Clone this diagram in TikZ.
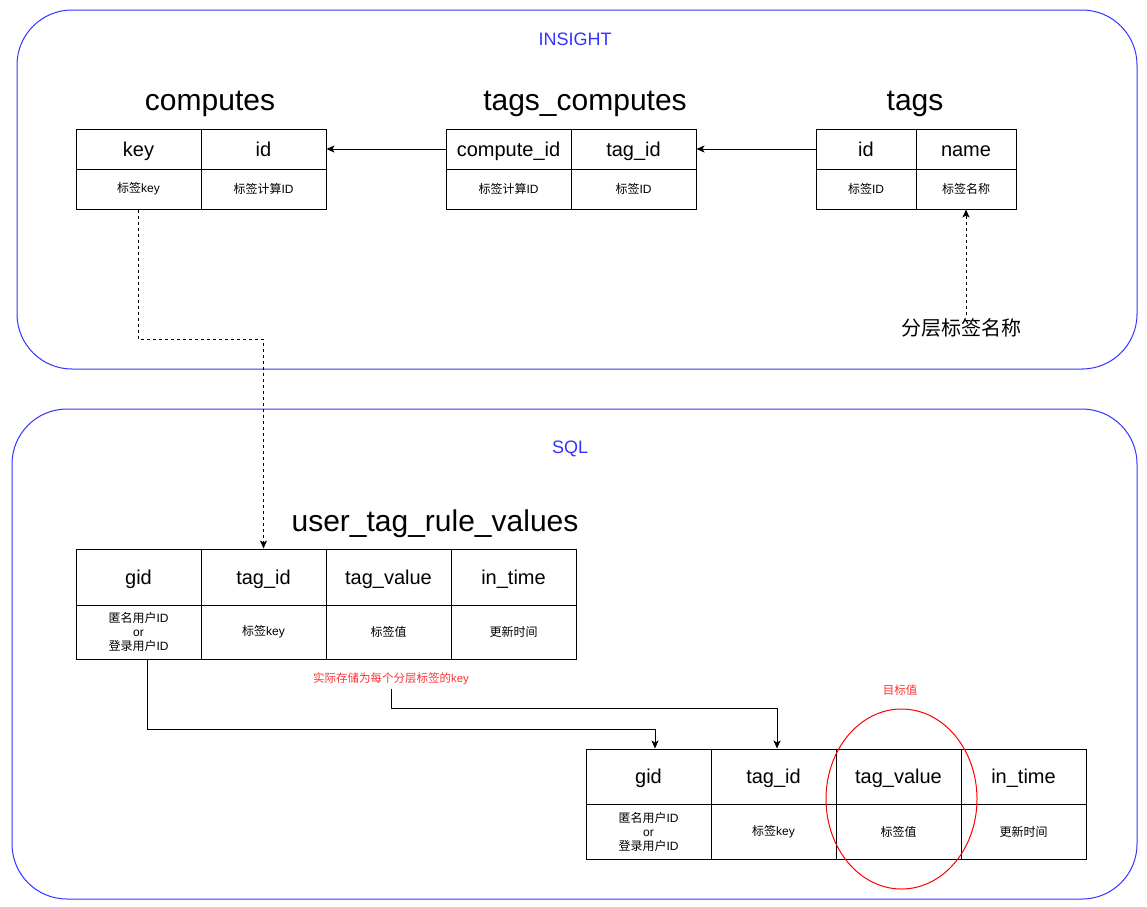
\documentclass[tikz,border=0pt]{standalone}
\usepackage{fontspec}
\setmainfont{Liberation Sans}
\newfontfamily\cjk{Noto Sans CJK SC}
\usetikzlibrary{arrows.meta,shapes.geometric}
\newcommand\zh[1]{{\cjk #1}}
\definecolor{boxblue}{HTML}{3333FF}
\definecolor{txtred}{HTML}{FF3333}
\begin{document}
\begin{tikzpicture}[x=1pt,y=-1pt,
  container/.style={draw=boxblue, line width=1pt, rounded corners=55pt},
  boxlabel/.style={text=boxblue, font=\fontsize{18}{22}\selectfont},
  cell/.style={draw=black, line width=1pt, inner sep=0pt, align=center},
  hd/.style={cell, font=\fontsize{20}{24}\selectfont, text height=16pt, text depth=2pt},
  bd/.style={cell, font=\fontsize{12}{14}\selectfont},
  ttl/.style={font=\fontsize{30}{34}\selectfont},
  redlbl/.style={text=txtred, font=\fontsize{11.5}{14}\selectfont},
  arr/.style={line width=1pt, -{Stealth[length=8pt,width=7pt,inset=2pt]}},
  darr/.style={arr, dashed, dash pattern=on 3pt off 3pt}
]
\fill[white] (0,0) rectangle (1147,906);
\useasboundingbox (0,0) rectangle (1147,906);

% containers
\draw[container] (17,10) rectangle (1137,369);
\node[boxlabel] (insight) at (575,39) {INSIGHT};
\draw[container] (12,409) rectangle (1137,899);
\node[boxlabel] (sql) at (570,449) {SQL};

% computes
\node[ttl] (tcomp) at (210,104) {computes};
\node[hd, minimum width=125, minimum height=40] (c1) at (138.5,149) {key};
\node[hd, minimum width=125, minimum height=40] (c2) at (263.5,149) {id};
\node[bd, minimum width=125, minimum height=40] (c3) at (138.5,189) {\zh{标签}key};
\node[bd, minimum width=125, minimum height=40] (c4) at (263.5,189) {\zh{标签计算}ID};

% tags_computes
\node[ttl] (ttc) at (585,104) {tags\_computes};
\node[hd, minimum width=125, minimum height=40] (m1) at (508.5,149) {compute\_id};
\node[hd, minimum width=125, minimum height=40] (m2) at (633.5,149) {tag\_id};
\node[bd, minimum width=125, minimum height=40] (m3) at (508.5,189) {\zh{标签计算}ID};
\node[bd, minimum width=125, minimum height=40] (m4) at (633.5,189) {\zh{标签}ID};

% tags
\node[ttl] (ttags) at (915,104) {tags};
\node[hd, minimum width=100, minimum height=40] (t1) at (866,149) {id};
\node[hd, minimum width=100, minimum height=40] (t2) at (966,149) {name};
\node[bd, minimum width=100, minimum height=40] (t3) at (866,189) {\zh{标签}ID};
\node[bd, minimum width=100, minimum height=40] (t4) at (966,189) {\zh{标签名称}};

\node[font=\fontsize{20}{24}\selectfont] (layer) at (961,328) {\zh{分层标签名称}};

% user_tag_rule_values
\node[ttl] (tutr) at (435,524) {user\_tag\_rule\_values};
\node[hd, minimum width=125, minimum height=56] (u1) at (138.5,577) {gid};
\node[hd, minimum width=125, minimum height=56] (u2) at (263.5,577) {tag\_id};
\node[hd, minimum width=125, minimum height=56] (u3) at (388.5,577) {tag\_value};
\node[hd, minimum width=125, minimum height=56] (u4) at (513.5,577) {in\_time};
\node[bd, minimum width=125, minimum height=54] (u5) at (138.5,632) {\zh{匿名用户}ID\\or\\\zh{登录用户}ID};
\node[bd, minimum width=125, minimum height=54] (u6) at (263.5,632) {\zh{标签}key};
\node[bd, minimum width=125, minimum height=54] (u7) at (388.5,632) {\zh{标签值}};
\node[bd, minimum width=125, minimum height=54] (u8) at (513.5,632) {\zh{更新时间}};

% second table
\node[hd, minimum width=125, minimum height=55] (v1) at (648.5,776.5) {gid};
\node[hd, minimum width=125, minimum height=55] (v2) at (773.5,776.5) {tag\_id};
\node[hd, minimum width=125, minimum height=55] (v3) at (898.5,776.5) {tag\_value};
\node[hd, minimum width=125, minimum height=55] (v4) at (1023.5,776.5) {in\_time};
\node[bd, minimum width=125, minimum height=55] (v5) at (648.5,831.5) {\zh{匿名用户}ID\\or\\\zh{登录用户}ID};
\node[bd, minimum width=125, minimum height=55] (v6) at (773.5,831.5) {\zh{标签}key};
\node[bd, minimum width=125, minimum height=55] (v7) at (898.5,831.5) {\zh{标签值}};
\node[bd, minimum width=125, minimum height=55] (v8) at (1023.5,831.5) {\zh{更新时间}};

% labels
\node[redlbl] (keylbl) at (391,679) {\zh{实际存储为每个分层标签的}key};
\node[redlbl] (target) at (900,690) {\zh{目标值}};
\node[draw=red, line width=1pt, ellipse, minimum width=151, minimum height=180, inner sep=0pt] (circ) at (901.5,799) {};

% connectors
\draw[arr] (t1.west) -- (m2.east);
\draw[arr] (m1.west) -- (c2.east);
\draw[darr] (c3.south) -- ++(0,130) -| (u2.north);
\draw[darr] ([xshift=5pt]layer.north) -- (t4.south);
\draw[arr] ([xshift=8.5pt]u5.south) -- ++(0,70) -| ([xshift=6.5pt]v1.north);
\draw[arr] (keylbl.south) -- ++(0,20) -| ([xshift=3.5pt]v2.north);
\end{tikzpicture}
\end{document}
